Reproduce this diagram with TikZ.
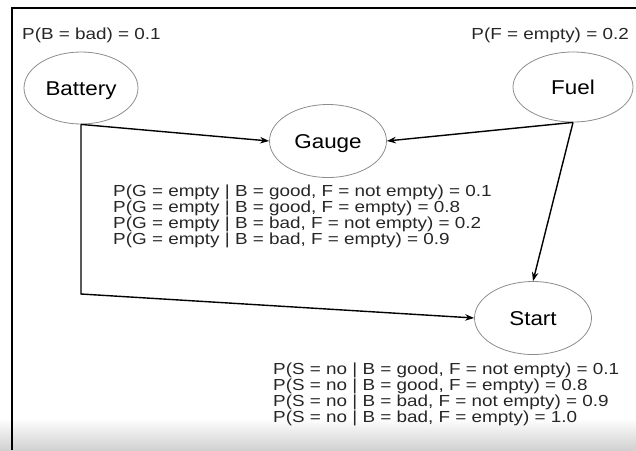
\documentclass[tikz,border=0pt]{standalone}
\usepackage{fontspec}
\setmainfont[FakeStretch=1.12]{Liberation Sans}
\newfontfamily\probfont[FakeStretch=1.18]{Liberation Sans}
\usetikzlibrary{shapes.geometric}
\usetikzlibrary{arrows.meta}

\tikzset{
	var/.style={ellipse, draw=black!45, line width=0.8pt, minimum width=116, minimum height=72,
		inner sep=0pt, text height=14.3pt, text depth=0pt, font=\fontsize{20}{22}\selectfont},
	prob/.style={inner sep=0pt, align=left, font=\probfont\fontsize{16}{14.7}\selectfont, text=black!85},
	link/.style={line width=1.4pt, -{Stealth[length=9pt, width=6.5pt]}},
}

\begin{document}
\begin{tikzpicture}[x=1pt, y=-1pt]

	\useasboundingbox (0,0) rectangle (636,450);

	%faded bottom edge
	\shade[top color=white, bottom color=black!18] (0,418) rectangle (636,450);

	%page frame
	\draw[line width=1.6pt] (12,450) -- (12,8) -- (636,8);

	%variables
	\node[var, minimum width=114] (bat) at (81,88) {Battery};
	\node[var, minimum width=120, minimum height=70] (fuel) at (573,87) {Fuel};
	\node[var, minimum width=117, minimum height=73] (gauge) at (328,141) {Gauge};
	\node[var, minimum width=117, minimum height=73] (start) at (533,318) {Start};

	%priors
	\node[prob, anchor=base west] (pbat) at (22,39) {P(B = bad) = 0.1};
	\node[prob, anchor=base east] (pfuel) at (629,39) {P(F = empty) = 0.2};

	%conditional tables
	\node[prob, anchor=north west] (pgauge) at (113,185) {P(G = empty | B = good, F = not empty) = 0.1\\
		P(G = empty | B = good, F = empty) = 0.8\\
		P(G = empty | B = bad, F = not empty) = 0.2\\
		P(G = empty | B = bad, F = empty) = 0.9};
	\node[prob, anchor=north west] (pstart) at (273,363) {P(S = no | B = good, F = not empty) = 0.1\\
		P(S = no | B = good, F = empty) = 0.8\\
		P(S = no | B = bad, F = not empty) = 0.9\\
		P(S = no | B = bad, F = empty) = 1.0};

	%edges
	\coordinate (bend) at (81,294);
	\draw[link] (bat.south) -- (gauge.west);
	\draw[link] (fuel.south) -- (gauge.east);
	\draw[link] (bat.south) -- (bend) -- (start.west);
	\draw[link] (fuel.south) -- (start.north);

\end{tikzpicture}
\end{document}
